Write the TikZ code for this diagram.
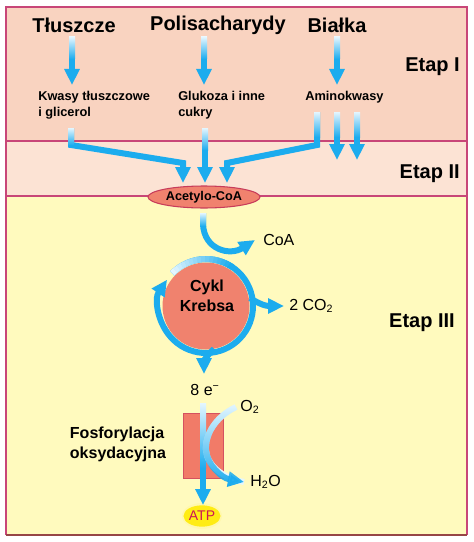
\documentclass[tikz,border=0pt]{standalone}
\usepackage{fontspec}
\setmainfont{Liberation Sans}
\usetikzlibrary{arrows.meta,shapes.geometric,fadings,positioning}

% --- colors ---
\definecolor{bandone}{RGB}{249,211,192}
\definecolor{bandtwo}{RGB}{252,227,212}
\definecolor{bandthree}{RGB}{255,250,190}
\definecolor{framecol}{RGB}{200,70,120}
\definecolor{basecol}{RGB}{150,70,70}
\definecolor{flowblue}{RGB}{28,172,238}
\definecolor{flowlight}{RGB}{228,246,255}
\definecolor{salmon}{RGB}{240,130,110}
\definecolor{salmonedge}{RGB}{200,60,90}
\definecolor{atpyellow}{RGB}{255,236,20}
\definecolor{atptext}{RGB}{205,20,85}

\tikzset{
  flow/.style={draw=flowblue, line width=4.5pt, -{Triangle[width=11pt,length=12pt]}},
  big/.style={font=\fontsize{15}{18}\selectfont\bfseries, inner sep=0pt},
  small/.style={font=\fontsize{9.6}{12}\selectfont\bfseries, inner sep=0pt, align=left},
  mid/.style={font=\fontsize{12}{14}\selectfont, inner sep=0pt},
  midbold/.style={font=\fontsize{12}{15}\selectfont\bfseries, inner sep=0pt, align=center},
}

% light tail of a vertical flow arrow
\newcommand\flowfade[2]{\shade[top color=flowlight, bottom color=flowblue]
  (#1) ++(-3,0) rectangle ++(6,#2);}

\begin{document}
\begin{tikzpicture}[x=0.75pt, y=-0.75pt]
\useasboundingbox (0,0) rectangle (474,542);

% --- stage bands ---
\fill[bandone]   (6,7)   rectangle (467,141);
\fill[bandtwo]   (6,141) rectangle (467,196);
\fill[bandthree] (6,196) rectangle (467,535);
\draw[framecol, line width=1pt] (6,141) -- (467,141);
\draw[framecol, line width=1pt] (6,196) -- (467,196);
\draw[framecol, line width=1pt] (6,535) -- (6,7) -- (467,7) -- (467,535);
\draw[basecol, line width=1pt] (6,535) -- (467,535);

% --- stage labels ---
\node[big, anchor=east] (etapI)   at (460,67)  {Etap I};
\node[big, anchor=east] (etapII)  at (460,174) {Etap II};
\node[big, anchor=east] (etapIII) at (455,323) {Etap III};

% --- stage I ---
\node[big] (tl)  at (74,25)  {Tłuszcze};
\node[big] (pol) at (218,25) {Polisacharydy};
\node[big] (bia) at (337,25) {Białka};

\node[small, anchor=north west] (kw)  at (38,91)  {Kwasy tłuszczowe\\i glicerol};
\node[small, anchor=north west] (glu) at (178,91) {Glukoza i inne\\cukry};
\node[small, anchor=north west] (ami) at (305,91) {Aminokwasy};

\coordinate (tl-out)  at (72,37);   \coordinate (tl-in)  at (72,85);
\coordinate (pol-out) at (204,37);  \coordinate (pol-in) at (204,85);
\coordinate (bia-out) at (337,37);  \coordinate (bia-in) at (337,85);

\foreach \a/\b in {tl-out/tl-in, pol-out/pol-in, bia-out/bia-in} {
    \draw[flow] (\a) -- (\b);
    \flowfade{\a}{22}
}

% --- stage II ---
\node[ellipse, draw=salmonedge, fill=salmon, line width=0.8pt,
      minimum width=84pt, minimum height=16.5pt, inner sep=0pt,
      font=\fontsize{9.5}{11}\selectfont\bfseries] (acoa) at (204,197) {Acetylo-CoA};

\coordinate (kw-out)  at (71,128);
\coordinate (glu-out) at (205,128);
\coordinate (ami-out) at (317,112);
\coordinate (ami-a)   at (337,112);
\coordinate (ami-b)   at (357,112);

\draw[flow] (kw-out) -- (71,145) -- (183,163) -- ([xshift=-15.75pt]acoa.north |- 0,183);
\flowfade{kw-out}{17}
\draw[flow] (glu-out) -- (glu-out |- 0,183);
\flowfade{glu-out}{22}
\draw[flow] (ami-out) -- (317,145) -- (227,163) -- ([xshift=17.25pt]acoa.north |- 0,183);
\flowfade{ami-out}{25}
\foreach \a in {ami-a, ami-b} {
    \draw[flow] (\a) -- (\a |- 0,160);
    \flowfade{\a}{25}
}

% --- stage III: Krebs cycle ---
\node[circle, fill=salmon, minimum size=65.25pt, inner sep=0pt] (krebs) at (206,306) {};
\node[midbold] (krebstxt) at (207,296) {Cykl\\Krebsa};

\coordinate (acoa-out) at (203,213);
\node[mid, anchor=west] (coa) at (263,240) {CoA};
\draw[flow] (acoa-out) -- (203,224) .. controls (204,250) and (230,256) .. ([xshift=-6pt]coa.west);
\flowfade{acoa-out}{13}

% cycle ring
\draw[flow] (krebs.center) ++(-136:47) arc[start angle=-136, end angle=214, radius=47];
\foreach \i in {0,...,15} {
    \pgfmathsetmacro\mix{\i*100/15}
    \draw[line width=4.5pt, draw=flowblue!\mix!flowlight]
        (krebs.center) ++({-136+\i*5}:47) arc[start angle={-136+\i*5}, end angle={-136+\i*5+5.6}, radius=47];
}

\node[mid, anchor=west] (coo) at (289,306) {2 CO\textsubscript{2}};
\coordinate (krebs-co) at (250,298);
\draw[flow] (krebs-co) .. controls (259,304) and (266,306) .. ([xshift=-3.75pt]coo.west);

\node[mid] (ee) at (205,390) {8 e\textsuperscript{−}};
\coordinate (krebs-e) at (214,349);
\draw[flow] (krebs-e) .. controls (206,356) and (204,362) .. (204,374);

% --- oxidative phosphorylation ---
\node[draw=salmonedge!70!salmon, fill=salmon!95!red, line width=0.6pt,
      minimum width=30pt, minimum height=48.75pt, inner sep=0pt] (mito) at (203,445.5) {};
\node[midbold, align=left] (fos) at (118,444) {Fosforylacja\\oksydacyjna};

\node[fill=atpyellow!35, ellipse, minimum width=30pt, minimum height=19.5pt] (atpglow) at (202,516) {};
\node[ellipse, fill=atpyellow, minimum width=25.5pt, minimum height=16pt, inner sep=0pt,
      text=atptext, font=\fontsize{10.5}{12}\selectfont] (atp) at (202,516) {ATP};

\node[mid] (otwo) at (250,407) {O\textsubscript{2}};
\node[mid, anchor=west] (hoh) at (250,482) {H\textsubscript{2}O};

\coordinate (ee-out) at (203,403);
\draw[flow] (ee-out) -- (ee-out |- atp.north);
\flowfade{ee-out}{65}

\coordinate (otwo-in) at (236,407);
\draw[line width=4.5pt, flowlight] (otwo-in) .. controls (215,417) and (205,435) .. (206,450)
    .. controls (207,465) and (222,478) .. ([xshift=-4.5pt]hoh.west);
\draw[flow, path fading=north] (otwo-in) .. controls (215,417) and (205,435) .. (206,450)
    .. controls (207,465) and (222,478) .. ([xshift=-4.5pt]hoh.west);

\end{tikzpicture}
\end{document}
